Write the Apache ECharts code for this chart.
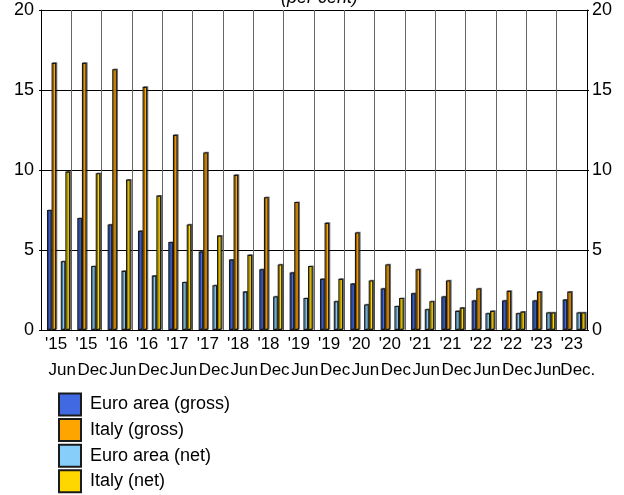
<!DOCTYPE html>
<html>
<head>
<meta charset="utf-8">
<script src="https://cdn.jsdelivr.net/npm/echarts@6/dist/echarts.min.js"></script>
<style>
html,body{margin:0;padding:0;background:#fff;}
#chart{width:624px;height:495px;}
</style>
</head>
<body>
<div id="chart"></div>
<script>
// ---- Data ----
const yearLabels = ["'15","'15","'16","'16","'17","'17","'18","'18","'19","'19","'20","'20","'21","'21","'22","'22","'23","'23"];
const monthLabels = ["Jun","Dec","Jun","Dec","Jun","Dec","Jun","Dec","Jun","Dec","Jun","Dec","Jun","Dec","Jun","Dec","Jun","Dec."];
const seriesNames = ["Euro area (gross)", "Italy (gross)", "Euro area (net)", "Italy (net)"];
const euroGross = [7.5, 7.0, 6.6, 6.2, 5.5, 4.9, 4.4, 3.8, 3.6, 3.2, 2.9, 2.6, 2.3, 2.1, 1.85, 1.85, 1.85, 1.9];
const italyGross = [16.7, 16.7, 16.3, 15.2, 12.2, 11.1, 9.7, 8.3, 8.0, 6.7, 6.1, 4.1, 3.8, 3.1, 2.6, 2.45, 2.4, 2.4];
const euroNet = [4.3, 4.0, 3.7, 3.4, 3.0, 2.8, 2.4, 2.1, 2.0, 1.8, 1.6, 1.5, 1.3, 1.2, 1.05, 1.05, 1.1, 1.1];
const italyNet = [9.9, 9.8, 9.4, 8.4, 6.6, 5.9, 4.7, 4.1, 4.0, 3.2, 3.1, 2.0, 1.8, 1.4, 1.2, 1.15, 1.1, 1.1];
const yTicks = [0, 5, 10, 15, 20];

// ---- Chart ----
const categories = yearLabels.map((y, i) => y + '|' + monthLabels[i]);
const colors = ['#4169E1', '#FFA500', '#87CEFA', '#FFD700'];
const FONT = 'Liberation Sans, Arial, sans-serif';

function barSeries(name, data, color) {
  return {
    name: name, type: 'bar', data: data, barWidth: 4.6, barGap: '0%',
    itemStyle: {
      color: color, borderColor: '#1a1a1a', borderWidth: 1.1,
      shadowColor: 'rgba(0,0,0,0.45)', shadowOffsetX: 1.2, shadowOffsetY: -0.6, shadowBlur: 0
    }
  };
}
function gapSeries(name) {
  return { name: name, type: 'bar', data: [], barWidth: 4.6, barGap: '0%' };
}

const chart = echarts.init(document.getElementById('chart'), null, {renderer: 'canvas'});
chart.setOption({
  animation: false,
  backgroundColor: '#fff',
  color: colors,
  title: {
    text: '(per cent)', left: 281, top: -11, padding: 0,
    textStyle: {fontFamily: FONT, fontSize: 18, fontStyle: 'italic', fontWeight: 'normal', color: '#000'}
  },
  legend: {
    orient: 'vertical', left: 58, top: 392.5, height: 200, width: 300, padding: 0,
    itemWidth: 22, itemHeight: 22, itemGap: 1.6,
    data: seriesNames,
    icon: 'rect',
    textStyle: {fontFamily: FONT, fontSize: 18, color: '#000', padding: [0, 0, 0, 4]}
  },
  grid: {left: 41, right: 37, top: 10, bottom: 165, containLabel: false},
  xAxis: {
    type: 'category', data: categories, boundaryGap: true,
    axisLine: {show: true, lineStyle: {color: '#000', width: 1}},
    axisTick: {show: false},
    splitLine: {show: true, interval: 0, lineStyle: {color: '#666', width: 1}},
    axisLabel: {
      interval: 0, margin: 4, color: '#000',
      formatter: function (v) {
        const p = v.split('|');
        return '{a|' + p[0] + '}\n{b|' + p[1] + '}';
      },
      rich: {
        a: {fontFamily: FONT, fontSize: 17, lineHeight: 20, color: '#000'},
        b: {fontFamily: FONT, fontSize: 17, lineHeight: 33, color: '#000', padding: [0, 0, 0, 12]}
      }
    }
  },
  yAxis: [
    {
      type: 'value', min: yTicks[0], max: yTicks[yTicks.length - 1], interval: 5, position: 'left',
      axisLine: {show: true, lineStyle: {color: '#000'}},
      axisTick: {show: true, length: 2, lineStyle: {color: '#000'}},
      splitLine: {show: true, lineStyle: {color: '#000', width: 1}},
      axisLabel: {fontFamily: FONT, fontSize: 18, color: '#000', margin: 7}
    },
    {
      type: 'value', min: yTicks[0], max: yTicks[yTicks.length - 1], interval: 5, position: 'right',
      axisLine: {show: true, lineStyle: {color: '#000'}},
      axisTick: {show: true, length: 2, lineStyle: {color: '#000'}},
      splitLine: {show: false},
      axisLabel: {fontFamily: FONT, fontSize: 18, color: '#000', margin: 5}
    }
  ],
  series: [
    gapSeries('_lead'),
    barSeries(seriesNames[0], euroGross, colors[0]),
    barSeries(seriesNames[1], italyGross, colors[1]),
    gapSeries('_mid'),
    barSeries(seriesNames[2], euroNet, colors[2]),
    barSeries(seriesNames[3], italyNet, colors[3])
  ]
});
</script>
</body>
</html>
